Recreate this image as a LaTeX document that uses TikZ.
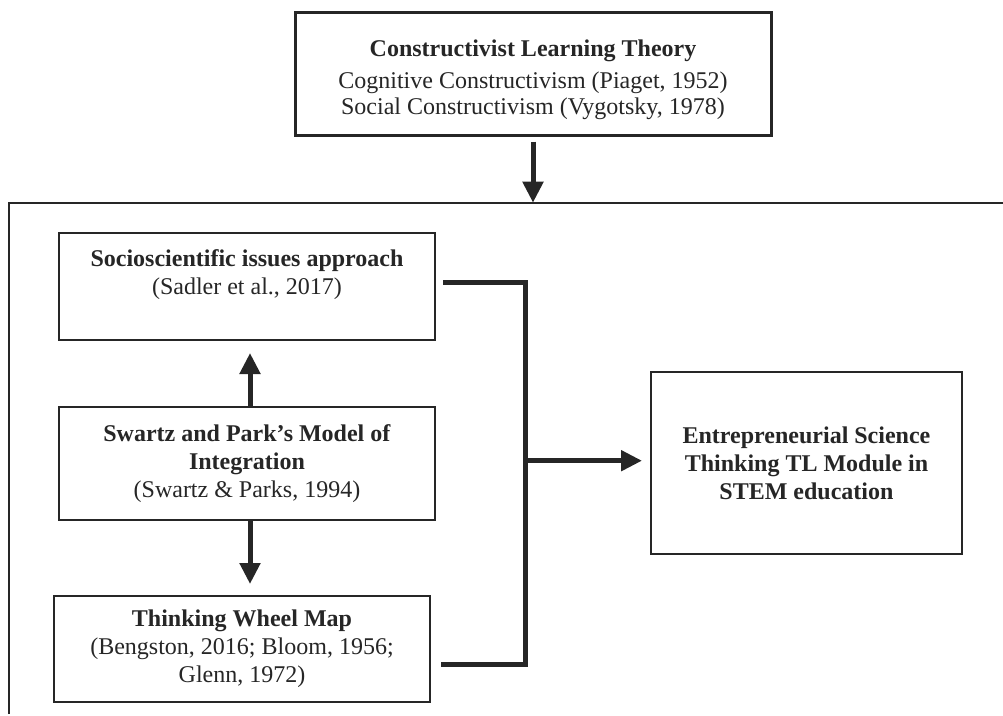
\documentclass[tikz,border=0pt]{standalone}
\usepackage{fontspec}
\setmainfont{Liberation Serif}
\usetikzlibrary{arrows.meta,calc}
\begin{document}
\begin{tikzpicture}[x=1pt,y=-1pt,
  box/.style={draw=black!85, line width=2pt, fill=white, inner sep=0pt, outer sep=0pt,
    align=center, font=\fontsize{24}{28}\selectfont, text=black!85},
  conn/.style={line width=5pt, draw=black!85},
  arr/.style={conn, -{Triangle[length=21pt,width=20pt]}},
  framel/.style={line width=1.8pt, draw=black!85}
]
\useasboundingbox (0,0) rectangle (1003,715);

% top box
\node[box, line width=3pt, minimum width=476pt, minimum height=123pt,
      font=\fontsize{24}{26}\selectfont] (top) at (533,74)
  {\rule{0pt}{28pt}\textbf{Constructivist Learning Theory}\\[6pt]
   Cognitive Constructivism (Piaget, 1952)\\
   Social Constructivism (Vygotsky, 1978)};

% open frame
\coordinate (fl) at (9,714);
\coordinate (fc) at (9,202.7);
\coordinate (fr) at (1003,202.7);
\draw[framel] (fl) -- (fc) -- (fr);

\draw[arr, shorten <=6pt] (top.south) -- (top.south |- fc);

% left column
\node[box, minimum width=376pt, minimum height=107pt] (b1) at (247,286.5)
  {\textbf{Socioscientific issues approach}\\(Sadler et al., 2017)\\\mbox{}};
\node[box, minimum width=376pt, minimum height=113pt] (b2) at (247,463.5)
  {\textbf{Swartz and Park's Model of}\\\textbf{Integration}\\(Swartz \& Parks, 1994)};
\node[box, minimum width=376pt, minimum height=106pt] (b3) at (242,649)
  {\textbf{Thinking Wheel Map}\\(Bengston, 2016; Bloom, 1956;\\Glenn, 1972)};

% result box
\node[box, minimum width=311pt, minimum height=182pt] (res) at (806.5,463)
  {\textbf{Entrepreneurial Science}\\\textbf{Thinking TL Module in}\\\textbf{STEM education}};

% vertical arrows
\draw[arr, shorten >=13pt] ([xshift=3pt]b2.north) -- ([xshift=3pt]b1.south);
\draw[arr, shorten >=12pt] ([xshift=3pt]b2.south) -- ([xshift=8pt]b3.north);

% bracket connector
\coordinate (j1) at (525,282.3);
\coordinate (j3) at (525,664);
\coordinate (jm) at (525,460.7);
\draw[conn] ($(b1.east |- j1)+(8,0)$) -- (j1) -- (j3) -- ($(b3.east |- j3)+(11,0)$);
\draw[arr] (jm) -- ($(res.west |- jm)+(-9,0)$);
\end{tikzpicture}
\end{document}
